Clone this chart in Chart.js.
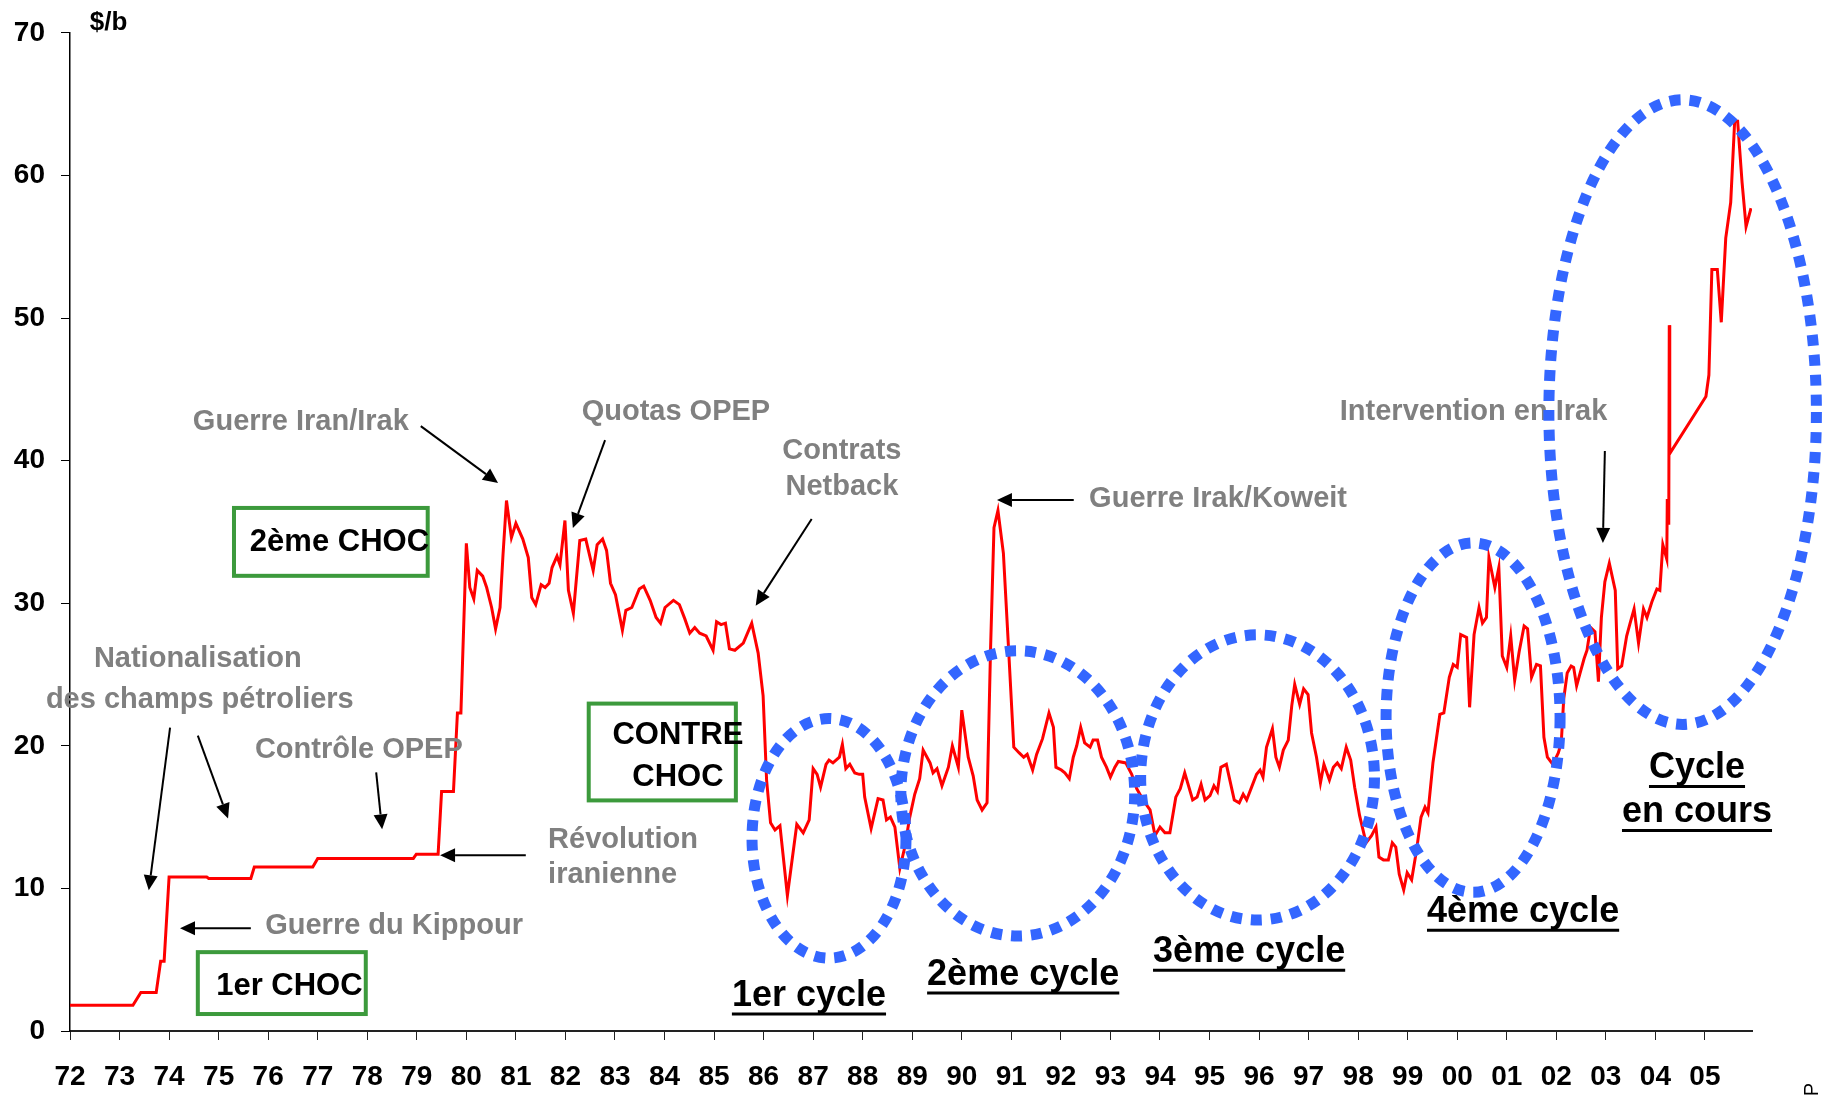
<!DOCTYPE html>
<html>
<head>
<meta charset="utf-8">
<script src="https://cdn.jsdelivr.net/npm/chart.js@4.4.1/dist/chart.umd.min.js"></script>
<style>
  html, body { margin: 0; padding: 0; background: #fff; }
  canvas { display: block; }
</style>
</head>
<body>
<canvas id="chart" width="1824" height="1095"></canvas>
<script>
// monthly-ish price, $/b (x = year, 72 = 1972)
const years = [
  72.0, 73.27, 73.43, 73.74, 73.83, 73.9, 74.0, 74.76, 74.8, 75.65, 75.72, 76.9, 77.0, 78.93, 78.99, 79.43,
  79.5, 79.74, 79.82, 79.89, 80.0, 80.07, 80.15, 80.22, 80.33, 80.41, 80.51, 80.59, 80.68, 80.74, 80.81, 80.91,
  81.0, 81.14, 81.25, 81.32, 81.4, 81.51, 81.59, 81.67, 81.73, 81.83, 81.89, 81.99, 82.06, 82.16, 82.29, 82.41,
  82.56, 82.64, 82.75, 82.83, 82.91, 83.01, 83.15, 83.22, 83.34, 83.49, 83.58, 83.71, 83.83, 83.92, 84.01, 84.18,
  84.3, 84.41, 84.51, 84.61, 84.71, 84.84, 84.98, 85.05, 85.14, 85.23, 85.31, 85.42, 85.59, 85.76, 85.89, 85.99,
  86.06, 86.14, 86.23, 86.33, 86.48, 86.67, 86.8, 86.92, 87.0, 87.08, 87.15, 87.26, 87.32, 87.4, 87.53, 87.59,
  87.66, 87.74, 87.84, 87.93, 88.0, 88.04, 88.17, 88.31, 88.41, 88.48, 88.56, 88.65, 88.75, 88.85, 88.95, 89.05,
  89.15, 89.22, 89.36, 89.42, 89.5, 89.6, 89.73, 89.81, 89.93, 90.0, 90.13, 90.23, 90.31, 90.41, 90.51, 90.58,
  90.65, 90.73, 90.84, 90.94, 91.05, 91.16, 91.25, 91.32, 91.43, 91.51, 91.63, 91.76, 91.85, 91.9, 92.01, 92.08,
  92.17, 92.25, 92.32, 92.4, 92.48, 92.59, 92.65, 92.74, 92.82, 92.92, 93.0, 93.09, 93.16, 93.31, 93.43, 93.53,
  93.66, 93.8, 93.9, 94.0, 94.1, 94.2, 94.32, 94.41, 94.5, 94.66, 94.75, 94.83, 94.91, 95.01, 95.09, 95.16,
  95.23, 95.34, 95.5, 95.6, 95.68, 95.75, 95.85, 95.95, 96.02, 96.08, 96.15, 96.27, 96.34, 96.41, 96.49, 96.59,
  96.66, 96.72, 96.82, 96.9, 96.99, 97.06, 97.16, 97.24, 97.31, 97.42, 97.5, 97.58, 97.66, 97.76, 97.85, 97.93,
  98.03, 98.16, 98.27, 98.36, 98.42, 98.51, 98.61, 98.69, 98.76, 98.83, 98.92, 98.99, 99.08, 99.18, 99.27, 99.35,
  99.41, 99.51, 99.65, 99.73, 99.84, 99.92, 100.0, 100.07, 100.19, 100.25, 100.34, 100.44, 100.51, 100.59, 100.64, 100.76,
  100.84, 100.91, 101.0, 101.08, 101.16, 101.25, 101.35, 101.42, 101.5, 101.6, 101.68, 101.75, 101.82, 101.93, 102.04, 102.1,
  102.15, 102.22, 102.3, 102.35, 102.41, 102.48, 102.56, 102.62, 102.69, 102.78, 102.85, 102.91, 102.98, 103.07, 103.19, 103.24,
  103.32, 103.42, 103.49, 103.57, 103.66, 103.76, 103.83, 103.93, 104.03, 104.09, 104.15, 104.23, 104.24, 104.27, 104.28, 104.29,
  105.02, 105.08, 105.14, 105.25, 105.33, 105.42, 105.52, 105.6, 105.66, 105.75, 105.83, 105.93
];
const prices = [
  1.8, 1.8, 2.7, 2.7, 4.9, 4.9, 10.8, 10.8, 10.7, 10.7, 11.5, 11.5, 12.1, 12.1, 12.4, 12.4,
  16.8, 16.8, 22.3, 22.3, 34.2, 31.1, 30.3, 32.3, 31.9, 31.1, 29.7, 28.2, 29.7, 33.4, 37.2, 34.6,
  35.6, 34.5, 33.2, 30.4, 29.9, 31.3, 31.1, 31.4, 32.5, 33.3, 32.7, 35.8, 30.9, 29.3, 34.4, 34.5,
  32.3, 34.1, 34.5, 33.7, 31.4, 30.6, 28.1, 29.5, 29.7, 31.0, 31.2, 30.2, 29.0, 28.6, 29.7, 30.2,
  29.9, 28.9, 27.9, 28.3, 27.9, 27.7, 26.7, 28.7, 28.5, 28.6, 26.8, 26.7, 27.2, 28.6, 26.5, 23.5,
  17.6, 14.6, 14.1, 14.4, 9.5, 14.5, 13.9, 14.8, 18.4, 18.0, 17.1, 18.7, 19.0, 18.8, 19.2, 20.1,
  18.4, 18.7, 18.1, 18.0, 18.0, 16.4, 14.2, 16.3, 16.2, 14.8, 15.0, 14.3, 11.4, 12.9, 15.0, 16.6,
  17.7, 19.7, 18.8, 18.1, 18.4, 17.2, 18.5, 20.0, 18.5, 22.5, 19.2, 17.9, 16.2, 15.5, 16.0, 26.7,
  35.3, 36.5, 33.5, 27.1, 19.9, 19.5, 19.2, 19.4, 18.3, 19.4, 20.5, 22.3, 21.3, 18.5, 18.3, 18.1,
  17.7, 19.2, 20.0, 21.3, 20.2, 19.9, 20.4, 20.4, 19.2, 18.5, 17.8, 18.5, 18.9, 18.8, 18.0, 17.0,
  16.2, 15.5, 13.7, 14.3, 13.9, 13.9, 16.4, 17.0, 18.1, 16.2, 16.4, 17.3, 16.2, 16.5, 17.2, 16.8,
  18.5, 18.7, 16.2, 16.0, 16.6, 16.2, 17.1, 18.0, 18.3, 17.8, 19.9, 21.2, 19.2, 18.5, 19.7, 20.4,
  22.8, 24.3, 22.9, 24.0, 23.6, 20.9, 19.2, 17.4, 18.7, 17.6, 18.5, 18.8, 18.4, 19.9, 19.0, 17.1,
  15.1, 13.2, 13.7, 14.3, 12.2, 12.0, 12.0, 13.2, 12.9, 11.0, 9.9, 11.1, 10.6, 12.7, 15.0, 15.7,
  15.3, 18.8, 22.2, 22.3, 24.8, 25.7, 25.5, 27.8, 27.6, 22.7, 27.8, 29.7, 28.6, 29.0, 33.2, 31.1,
  32.5, 26.3, 25.5, 27.7, 24.6, 26.6, 28.4, 28.2, 24.8, 25.7, 25.6, 20.6, 19.2, 18.7, 19.5, 20.2,
  23.3, 25.1, 25.6, 25.5, 24.2, 25.1, 26.1, 26.7, 28.3, 28.0, 24.5, 29.0, 31.5, 32.8, 30.9, 25.4,
  25.6, 27.7, 28.6, 29.6, 27.2, 29.6, 29.0, 30.1, 31.0, 30.9, 34.1, 33.1, 37.3, 35.5, 49.5, 40.5,
  44.5, 46.0, 53.4, 53.4, 49.7, 55.6, 58.1, 63.8, 63.8, 59.5, 56.4, 57.7
];
const yearLabels = ['72', '73', '74', '75', '76', '77', '78', '79', '80', '81', '82', '83', '84', '85', '86', '87', '88',
  '89', '90', '91', '92', '93', '94', '95', '96', '97', '98', '99', '00', '01', '02', '03', '04', '05'];

// annotations, placed in data coordinates
const greyNotes = [
  { text: 'Guerre Iran/Irak', x: 76.66, y: 42.7, align: 'center' },
  { text: 'Quotas OPEP', x: 84.23, y: 43.4, align: 'center' },
  { text: 'Contrats', x: 87.58, y: 40.67, align: 'center' },
  { text: 'Netback', x: 87.58, y: 38.15, align: 'center' },
  { text: 'Guerre Irak/Koweit', x: 92.57, y: 37.31, align: 'left' },
  { text: 'Intervention en Irak', x: 100.33, y: 43.4, align: 'center' },
  { text: 'Nationalisation', x: 74.58, y: 26.11, align: 'center' },
  { text: 'des champs pétroliers', x: 74.62, y: 23.24, align: 'center' },
  { text: 'Contrôle OPEP', x: 77.83, y: 19.74, align: 'center' },
  { text: 'Révolution', x: 81.65, y: 13.37, align: 'left' },
  { text: 'iranienne', x: 81.65, y: 10.92, align: 'left' },
  { text: 'Guerre du Kippour', x: 75.94, y: 7.35, align: 'left' }
];
const arrows = [
  [79.08, 42.42, 80.64, 38.43],
  [82.80, 41.44, 82.15, 35.28],
  [86.97, 35.91, 85.84, 29.82],
  [92.26, 37.24, 90.71, 37.24],
  [102.98, 40.67, 102.94, 34.23],
  [74.02, 21.28, 73.59, 9.87],
  [74.58, 20.72, 75.19, 14.91],
  [78.18, 18.13, 78.30, 14.14],
  [81.20, 12.32, 79.47, 12.32],
  [75.65, 7.21, 74.22, 7.21]
];
const shockBoxes = [
  { lines: ['1er CHOC'], x0: 74.58, y0: 5.53, x1: 77.97, y1: 1.19, tx: 74.95, ty: [3.15], align: 'left' },
  { lines: ['2ème CHOC'], x0: 75.31, y0: 36.68, x1: 79.22, y1: 31.92, tx: 75.63, ty: [34.23], align: 'left' },
  { lines: ['CONTRE', 'CHOC'], x0: 82.47, y0: 22.96, x1: 85.44, y1: 16.17, tx: 84.27, ty: [20.72, 17.78], align: 'center' }
];
const cycleRings = [
  { cx: 87.32, cy: 13.51, rx: 1.554, ry: 8.4 },
  { cx: 91.13, cy: 16.66, rx: 2.36, ry: 10.0 },
  { cx: 95.97, cy: 17.78, rx: 2.36, ry: 10.0 },
  { cx: 100.32, cy: 21.98, rx: 1.756, ry: 12.25 },
  { cx: 104.55, cy: 43.4, rx: 2.70, ry: 21.9 }
];
const cycleNames = [
  { text: '1er cycle', x: 85.36, y: 2.45, align: 'left' },
  { text: '2ème cycle', x: 89.30, y: 3.92, align: 'left' },
  { text: '3ème cycle', x: 93.86, y: 5.53, align: 'left' },
  { text: '4ème cycle', x: 99.39, y: 8.33, align: 'left' },
  { text: 'Cycle', x: 104.84, y: 18.41, align: 'center' },
  { text: 'en cours', x: 104.84, y: 15.33, align: 'center' }
];

const FONT = "'Liberation Sans', Arial, sans-serif";

function drawArrow(ctx, x0, y0, x1, y1) {
  const ang = Math.atan2(y1 - y0, x1 - x0);
  const len = 15, half = 7;
  const bx = x1 - len * Math.cos(ang), by = y1 - len * Math.sin(ang);
  ctx.beginPath();
  ctx.moveTo(x0, y0);
  ctx.lineTo(bx, by);
  ctx.stroke();
  ctx.beginPath();
  ctx.moveTo(x1, y1);
  ctx.lineTo(bx + half * Math.sin(ang), by - half * Math.cos(ang));
  ctx.lineTo(bx - half * Math.sin(ang), by + half * Math.cos(ang));
  ctx.closePath();
  ctx.fill();
}

const notesPlugin = {
  id: 'notes',
  afterDatasetsDraw(chart) {
    const ctx = chart.ctx;
    const X = v => chart.scales.x.getPixelForValue(v);
    const Y = v => chart.scales.y.getPixelForValue(v);
    ctx.save();

    // unit
    ctx.fillStyle = '#000';
    ctx.font = 'bold 26px ' + FONT;
    ctx.textAlign = 'left';
    ctx.textBaseline = 'middle';
    ctx.fillText('$/b', X(72.4), Y(70.7));

    // grey comments
    ctx.fillStyle = '#808080';
    ctx.font = 'bold 29px ' + FONT;
    greyNotes.forEach(n => {
      ctx.textAlign = n.align;
      ctx.fillText(n.text, X(n.x), Y(n.y));
    });

    // arrows
    ctx.strokeStyle = '#000';
    ctx.fillStyle = '#000';
    ctx.lineWidth = 2;
    arrows.forEach(a => drawArrow(ctx, X(a[0]), Y(a[1]), X(a[2]), Y(a[3])));

    // green boxes
    shockBoxes.forEach(b => {
      ctx.strokeStyle = '#3c9a3c';
      ctx.lineWidth = 4;
      ctx.strokeRect(X(b.x0), Y(b.y0), X(b.x1) - X(b.x0), Y(b.y1) - Y(b.y0));
      ctx.fillStyle = '#000';
      ctx.font = 'bold 31px ' + FONT;
      ctx.textAlign = b.align;
      b.lines.forEach((l, i) => ctx.fillText(l, X(b.tx), Y(b.ty[i])));
    });

    // dotted cycle rings
    ctx.strokeStyle = '#3366ff';
    ctx.lineWidth = 11;
    ctx.lineCap = 'butt';
    ctx.setLineDash([11, 9]);
    cycleRings.forEach(r => {
      const cx = X(r.cx), cy = Y(r.cy);
      const rx = X(r.cx + r.rx) - cx, ry = cy - Y(r.cy + r.ry);
      ctx.beginPath();
      ctx.ellipse(cx, cy, rx, ry, 0, 0, Math.PI * 2);
      ctx.stroke();
    });
    ctx.setLineDash([]);

    // underlined cycle names
    ctx.fillStyle = '#000';
    ctx.strokeStyle = '#000';
    ctx.lineWidth = 3;
    ctx.font = 'bold 36px ' + FONT;
    cycleNames.forEach(c => {
      ctx.textAlign = c.align;
      const x = X(c.x), y = Y(c.y);
      ctx.fillText(c.text, x, y);
      const w = ctx.measureText(c.text).width;
      const left = c.align === 'center' ? x - w / 2 : x;
      ctx.beginPath();
      ctx.moveTo(left, y + 18);
      ctx.lineTo(left + w, y + 18);
      ctx.stroke();
    });

    // source, cut off at the bottom edge
    ctx.translate(1818, 1083);
    ctx.rotate(-Math.PI / 2);
    ctx.font = '20px ' + FONT;
    ctx.textAlign = 'right';
    ctx.textBaseline = 'alphabetic';
    ctx.fillText('Source : BP', 0, 0);
    ctx.restore();
  }
};

new Chart(document.getElementById('chart'), {
  type: 'line',
  data: {
    datasets: [{
      data: years.map((x, i) => ({ x: x, y: prices[i] })),
      borderColor: '#ff0000',
      borderWidth: 3,
      pointRadius: 0,
      tension: 0,
      fill: false
    }]
  },
  options: {
    responsive: false,
    animation: false,
    devicePixelRatio: 1,
    layout: { padding: { left: 0, right: 72, top: 31, bottom: 0 } },
    plugins: { legend: { display: false }, tooltip: { enabled: false } },
    scales: {
      x: {
        type: 'linear',
        min: 72,
        max: 105.95,
        afterFit: s => { s.height = 64; },
        border: { color: '#222', width: 2 },
        grid: { drawOnChartArea: false, drawTicks: true, tickLength: 9, color: '#222' },
        ticks: {
          stepSize: 1,
          includeBounds: false,
          autoSkip: false,
          maxRotation: 0,
          padding: 20,
          color: '#000',
          font: { family: FONT, size: 28, weight: 'bold' },
          callback: v => yearLabels[Math.round(v) - 72]
        }
      },
      y: {
        min: 0,
        max: 70,
        afterFit: s => { s.width = 70; },
        border: { color: '#000', width: 1.5 },
        grid: { drawOnChartArea: false, drawTicks: true, tickLength: 9, color: '#000' },
        ticks: {
          stepSize: 10,
          padding: 16,
          color: '#000',
          font: { family: FONT, size: 28, weight: 'bold' }
        }
      }
    }
  },
  plugins: [notesPlugin]
});
</script>
</body>
</html>
